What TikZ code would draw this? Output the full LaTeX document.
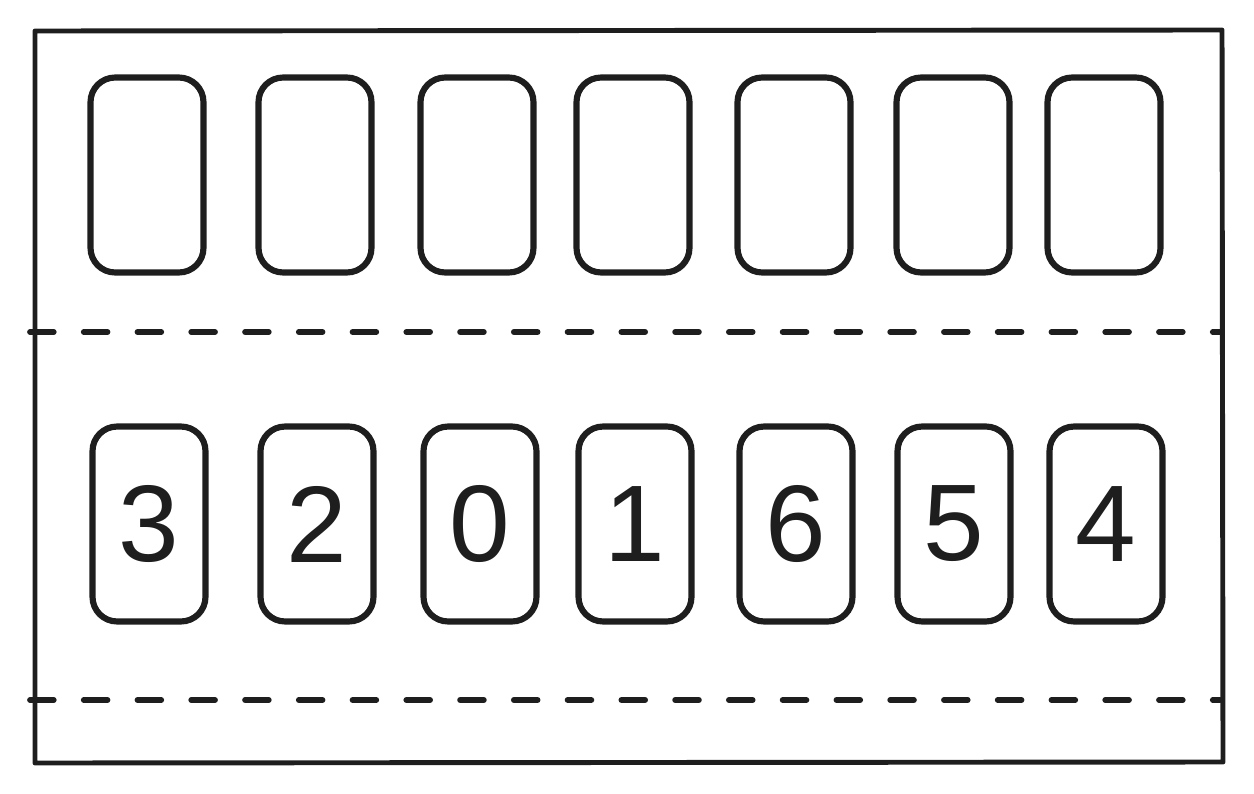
\documentclass[tikz,border=0pt]{standalone}
\usepackage{fontspec}
\setmainfont{Liberation Sans}
\usetikzlibrary{positioning}
\definecolor{ink}{RGB}{30,30,30}

\begin{document}
\begin{tikzpicture}[x=0.02cm,y=-0.02cm,
    card/.style={draw=ink,line width=3.5pt,rounded corners=14pt,
      minimum width=2.26cm,minimum height=3.9cm,inner sep=0pt,
      font=\fontsize{62}{62}\selectfont,text=ink},
    divider/.style={draw=ink,line width=3.3pt,line cap=round,
      dash pattern=on 13.5pt off 17.1pt}]
        \useasboundingbox (0,0) rectangle (1254,794);
        % outer frame
        \draw[ink,line width=2.8pt,line join=round] (35,31) -- (1222,30) -- (1223,762) -- (35,763) -- cycle;
        % dashed dividers
        \coordinate (d1w) at (30,332);
        \coordinate (d1e) at (1220,332);
        \coordinate (d2w) at (30,700);
        \coordinate (d2e) at (1220,700);
        \draw[divider] (d1w) -- (d1e);
        \draw[divider] (d2w) -- (d2e);
        % empty slots
        \foreach \x [count=\i] in {147,315,477,633,794,953,1104}
            \node[card] (top\i) at (\x,175) {};
        % numbered slots
        \foreach \x/\n [count=\i] in {149/3,317/2,480/0,635/1,796/6,954/5,1106/4}
            \node[card] (bot\i) at (\x,524) {\n};
    \end{tikzpicture}
\end{document}
